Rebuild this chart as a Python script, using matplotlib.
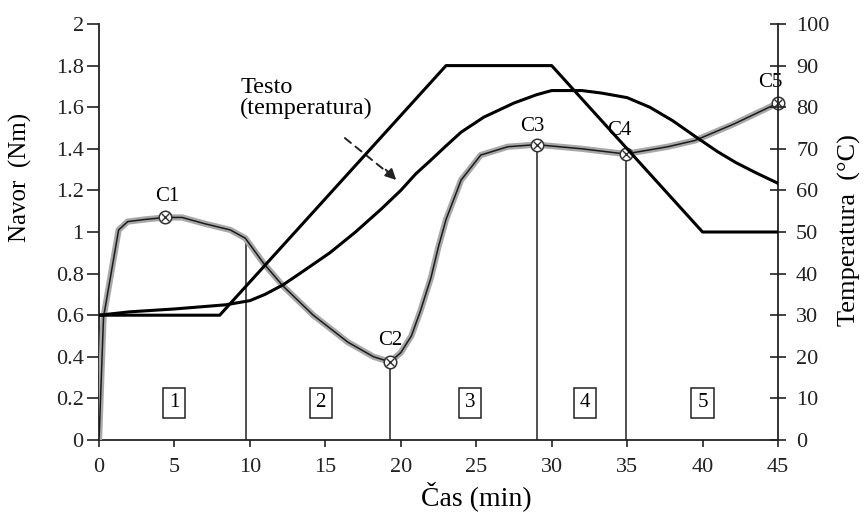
"""Torque (Navor) and temperature profile of a dough mixing test, C1..C5 marked."""
import matplotlib

matplotlib.use("Agg")
import matplotlib.pyplot as plt

plt.rcParams["font.family"] = ["Liberation Serif", "DejaVu Serif"]

# --- data ------------------------------------------------------------------
# torque curve (Nm) vs time (min)
torque_time = [0, 0.3, 1.3, 1.9, 3, 4.4, 5.5, 7, 8.7, 9.7, 10.9, 12.2, 14.2,
               16.5, 18.2, 19.3, 20, 20.7, 21.3, 22, 22.5, 23, 24, 25.3, 27.1,
               29, 32, 34.9, 37.7, 39.5, 42.1, 45]
torque = [0, 0.59, 1.01, 1.05, 1.06, 1.07, 1.07, 1.04, 1.01, 0.97, 0.85, 0.74,
          0.60, 0.47, 0.40, 0.375, 0.42, 0.50, 0.62, 0.78, 0.93, 1.06, 1.25,
          1.37, 1.41, 1.42, 1.40, 1.375, 1.41, 1.44, 1.52, 1.62]

# programmed (set) temperature, degC
set_time = [0, 8, 23, 30, 40, 45]
set_temp = [30, 30, 90, 90, 50, 50]

# dough temperature ("Testo"), degC
dough_time = [0, 2, 5, 8.4, 10, 11, 12.2, 13.5, 15.3, 17, 18.7, 20, 21, 22,
              23, 24, 25.5, 27.5, 29, 30, 32, 33.3, 35, 36.5, 38, 39.5, 41,
              42.2, 43.5, 45]
dough_temp = [30, 30.8, 31.5, 32.5, 33.5, 35, 37.3, 40.5, 45, 50, 55.5, 60,
              64, 67.3, 70.7, 74, 77.6, 81, 83, 84, 84, 83.4, 82.3, 80, 76.8,
              73, 69.3, 66.7, 64.3, 61.7]

# characteristic points C1..C5
c_names = ["C1", "C2", "C3", "C4", "C5"]
c_time = [4.4, 19.3, 29, 34.9, 45]
c_torque = [1.07, 0.375, 1.42, 1.375, 1.62]

# phase boxes 1..5
phase_names = ["1", "2", "3", "4", "5"]
phase_time = [5.0, 14.7, 24.6, 32.2, 40.0]

W, H = 867, 519
fig = plt.figure(figsize=(W / 100, H / 100), dpi=100)
ax = fig.add_axes([99 / W, 1 - 440 / H, (778 - 99) / W, (440 - 24) / H])
ax2 = ax.twinx()

# torque: grey raw band + black smoothed line
ax.plot(torque_time, torque, color="#a8a8a8", lw=4.5, solid_capstyle="butt", zorder=3)
ax.plot(torque_time, torque, color="#1a1a1a", lw=1.1, zorder=4)

# phase separators
sep_time = [9.75, c_time[1], c_time[2], c_time[3]]
sep_top = [0.97, c_torque[1], c_torque[2], c_torque[3]]
ax.vlines(sep_time, 0, sep_top, color="#333333", lw=1.2, zorder=2)

# markers ⊗
ax.plot(c_time, c_torque, "o", ms=9, mfc="white", mec="#333333", mew=1.1,
        zorder=6, clip_on=False)
ax.plot(c_time, c_torque, "x", ms=5.5, mec="#333333", mew=1.0, zorder=7,
        clip_on=False)
c_offsets = [(0.1, 0.10), (0, 0.105), (-0.3, 0.085), (-0.4, 0.115), (-0.5, 0.10)]
for name, t, v, (dx, dy) in zip(c_names, c_time, c_torque, c_offsets):
    ax.text(t + dx, v + dy, name, ha="center", va="center", fontsize=15,
            zorder=8, clip_on=False)

for name, t in zip(phase_names, phase_time):
    ax.text(t, 0.178, name, ha="center", va="center", fontsize=15,
            bbox=dict(boxstyle="square,pad=0.28", fc="white", ec="#222222", lw=1.1))

# temperatures on the right axis
ax2.plot(set_time, set_temp, color="black", lw=2.2, zorder=5)
ax2.plot(dough_time, dough_temp, color="black", lw=2.2, zorder=5)

ax.text(9.35, 1.567, "Testo\n(temperatura)", fontsize=17.5, ha="left",
        va="baseline", linespacing=1.0)
ax.annotate("", xy=(19.4, 1.27), xytext=(16.15, 1.46),
            arrowprops=dict(arrowstyle="-", ls=(0, (4, 3)), lw=1.4, color="#222222"))
ax.annotate("", xy=(19.7, 1.25), xytext=(19.0, 1.30),
            arrowprops=dict(arrowstyle="-|>", lw=1.4, color="#222222",
                            mutation_scale=16, shrinkA=0, shrinkB=0))

# axes styling
ax.set_xlim(0, 45)
ax.set_ylim(0, 2)
ax2.set_ylim(0, 100)
ax.set_xticks(range(0, 46, 5))
ax.set_yticks([i / 5 for i in range(11)])
ax.set_yticklabels(["0", "0.2", "0.4", "0.6", "0.8", "1", "1.2", "1.4", "1.6",
                    "1.8", "2"])
ax2.set_yticks(range(0, 101, 10))

for a in (ax, ax2):
    a.spines["top"].set_visible(False)
    for s in a.spines.values():
        s.set_linewidth(1.3)
        s.set_color("#222222")
ax.spines["right"].set_visible(False)
ax2.spines["left"].set_visible(False)
ax2.spines["bottom"].set_visible(False)

ax.tick_params(axis="both", width=1.2, labelsize=16, colors="#222222")
ax.tick_params(axis="y", direction="out", length=9, pad=2)
ax.tick_params(axis="x", direction="out", length=5, pad=8)
ax2.tick_params(axis="y", direction="inout", length=12, width=1.2, labelsize=16,
                colors="#222222", pad=7)

ax.set_ylabel("Navor  (Nm)", fontsize=18)
ax.yaxis.set_label_coords((32 - 99) / 679, 0.63)
ax.set_xlabel("Čas (min)", fontsize=20)
ax.xaxis.set_label_coords(0.555, -0.1)
ax2.set_ylabel("Temperatura  (°C)", fontsize=19)
ax2.yaxis.set_label_coords((838 - 99) / 679, 0.505)

fig.savefig("out.png", dpi=100)
